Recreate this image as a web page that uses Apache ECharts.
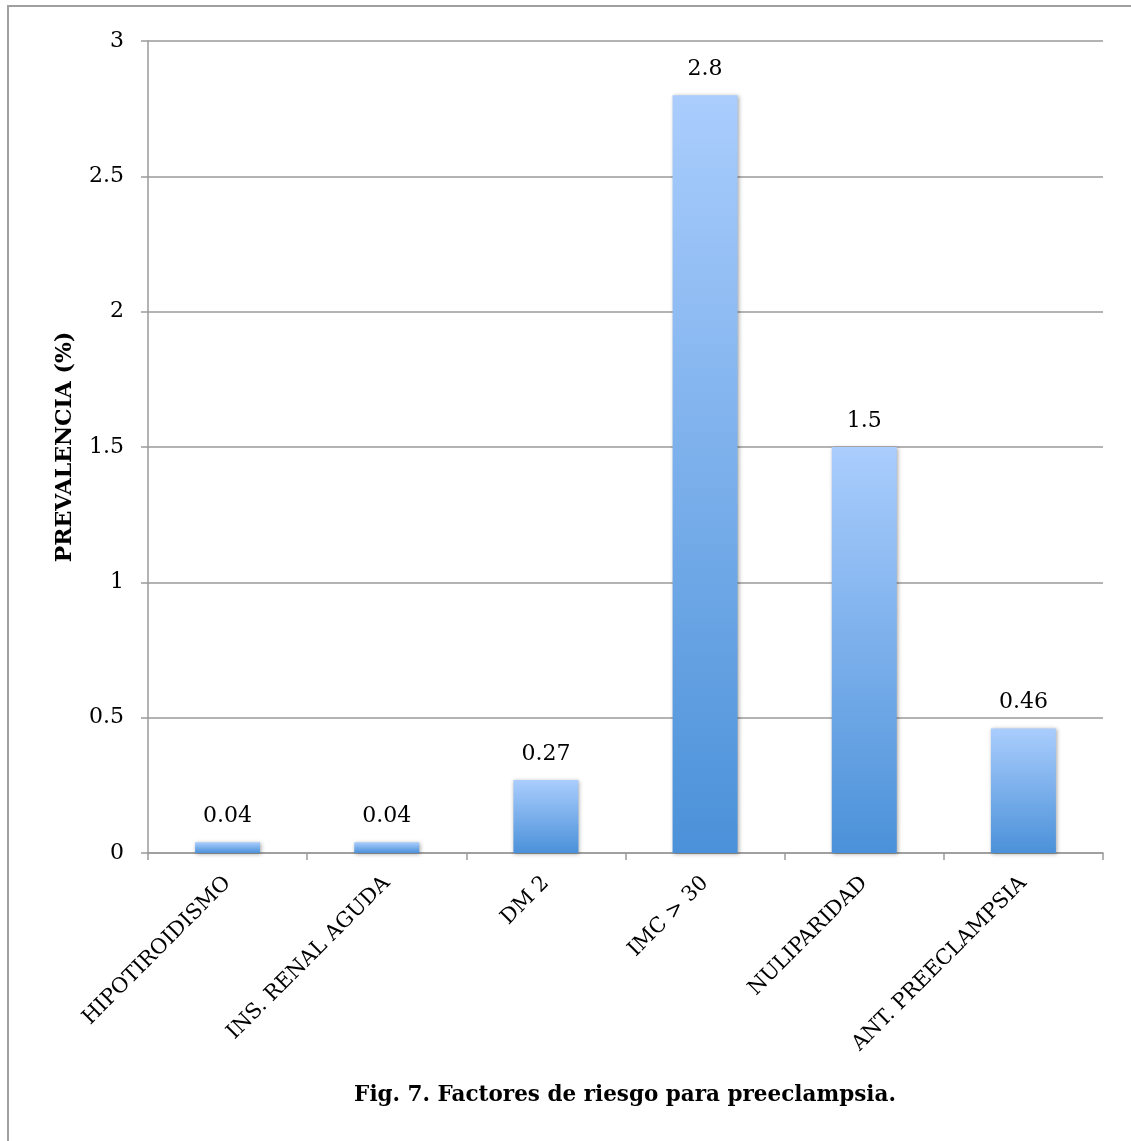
<!DOCTYPE html>
<html>
<head>
<meta charset="utf-8">
<style>
  html, body { margin: 0; padding: 0; background: #fff; }
  #chart { width: 1131px; height: 1141px; }
</style>
<script src="https://cdn.jsdelivr.net/npm/echarts@6/dist/echarts.min.js"></script>
</head>
<body>
<div id="chart"></div>
<script>
// Risk factors for preeclampsia (prevalence, %)
const categories = ['HIPOTIROIDISMO', 'INS. RENAL AGUDA', 'DM 2', 'IMC > 30', 'NULIPARIDAD', 'ANT. PREECLAMPSIA'];
const prevalence = [0.04, 0.04, 0.27, 2.8, 1.5, 0.46];
const yTicks = [0, 0.5, 1, 1.5, 2, 2.5, 3];

const serif = '"DejaVu Serif", "Liberation Serif", serif';
const axisGray = '#9a9a9a';

const chart = echarts.init(document.getElementById('chart'), null, { renderer: 'canvas' });

chart.setOption({
  animation: false,
  backgroundColor: '#ffffff',
  title: {
    text: 'Fig. 7. Factores de riesgo para preeclampsia.',
    left: 620,
    textAlign: 'center',
    top: 1079,
    textStyle: { fontFamily: serif, fontWeight: 'bold', fontSize: 21.5, color: '#000' }
  },
  graphic: [{
    type: 'rect',
    z: -1,
    shape: { x: 8, y: 6, width: 1300, height: 1300 },
    style: { fill: 'none', stroke: '#a0a0a0', lineWidth: 2 }
  }],
  grid: { left: 148, right: 28, top: 41, bottom: 288 },
  xAxis: {
    type: 'category',
    data: categories,
    boundaryGap: true,
    axisLine: { lineStyle: { color: axisGray, width: 1.5 } },
    axisTick: { show: true, length: 7, lineStyle: { color: axisGray, width: 1.5 } },
    axisLabel: {
      rotate: 45,
      interval: 0,
      margin: 27,
      fontFamily: serif,
      fontSize: 21,
      color: '#000'
    }
  },
  yAxis: {
    type: 'value',
    min: yTicks[0],
    max: yTicks[yTicks.length - 1],
    interval: 0.5,
    name: 'PREVALENCIA (%)',
    nameLocation: 'middle',
    nameGap: 72,
    nameRotate: 90,
    nameTextStyle: { fontFamily: serif, fontWeight: 'bold', fontSize: 22, color: '#000' },
    axisLine: { show: true, lineStyle: { color: axisGray, width: 1.5 } },
    axisTick: { show: true, length: 7, lineStyle: { color: axisGray, width: 1.5 } },
    splitLine: { show: true, lineStyle: { color: axisGray, width: 1.5 } },
    axisLabel: {
      margin: 24,
      fontFamily: serif,
      fontSize: 22,
      color: '#000',
      padding: [4, 0, 0, 0],
      formatter: v => String(v)
    }
  },
  series: [{
    type: 'bar',
    data: prevalence,
    barWidth: 65,
    itemStyle: {
      color: new echarts.graphic.LinearGradient(0, 0, 0, 1, [
        { offset: 0, color: '#aacdfd' },
        { offset: 1, color: '#4b91d9' }
      ]),
      shadowColor: 'rgba(0,0,0,0.35)',
      shadowBlur: 4,
      shadowOffsetX: 1,
      shadowOffsetY: 1
    },
    label: {
      show: true,
      position: 'top',
      distance: 15,
      fontFamily: serif,
      fontSize: 22,
      color: '#000',
      formatter: p => String(p.value)
    }
  }]
});
</script>
</body>
</html>
